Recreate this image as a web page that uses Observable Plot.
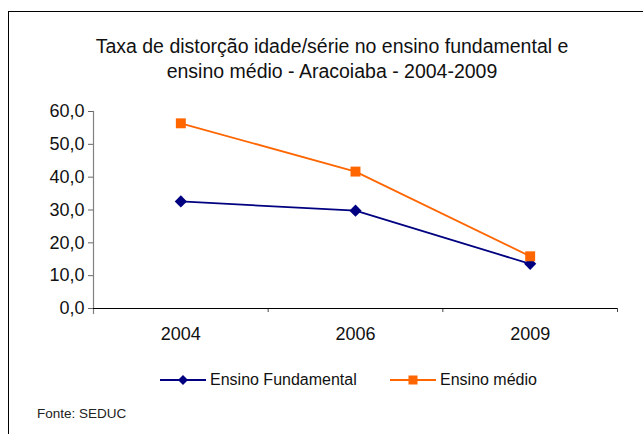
<!DOCTYPE html>
<html>
<head>
<meta charset="utf-8">
<script src="https://cdn.jsdelivr.net/npm/d3@7"></script>
<script src="https://cdn.jsdelivr.net/npm/@observablehq/plot@0.6"></script>
<style>
  body { margin: 0; background: #fff; font-family: "Liberation Sans", Arial, sans-serif; }
  #wrap { position: relative; width: 643px; height: 434px; overflow: hidden; background: #fff; }
  #box { position: absolute; left: 8px; top: 11px; width: 700px; height: 500px; border-left: 1.5px solid #000; border-top: 1.5px solid #000; }
  #title { position: absolute; left: 0; width: 664px; top: 34px; text-align: center; font-size: 19.5px; line-height: 25px; color: #111; }
  #plot { position: absolute; left: 0; top: 100px; }
  #legend { position: absolute; top: 370px; left: 0; width: 643px; font-size: 16px; color: #111; }
  .item { position: absolute; display: flex; align-items: center; }
  #caption { position: absolute; left: 37px; top: 406px; font-size: 13.5px; color: #222; }
</style>
</head>
<body>
<div id="wrap">
  <div id="box"></div>
  <div id="title">Taxa de distorção idade/série no ensino fundamental e<br>ensino médio - Aracoiaba - 2004-2009</div>
  <div id="plot"></div>
  <div id="legend"></div>
  <div id="caption">Fonte: SEDUC</div>
</div>
<script>
const years = ["2004", "2006", "2009"];
const fundamental = [32.6, 29.8, 13.6];
const medio = [56.4, 41.7, 15.9];
const seriesNames = ["Ensino Fundamental", "Ensino médio"];
const yTicks = [0, 10, 20, 30, 40, 50, 60];

const data = [];
years.forEach((y, i) => {
  data.push({idx: i + 0.5, year: y, value: fundamental[i], series: seriesNames[0]});
  data.push({idx: i + 0.5, year: y, value: medio[i], series: seriesNames[1]});
});
const boundaries = d3.range(years.length + 1);
const fmt = d => d.toFixed(1).replace(".", ",");

const colors = {"Ensino Fundamental": "#000080", "Ensino médio": "#FF6600"};

const chart = Plot.plot({
  width: 643,
  height: 250,
  marginLeft: 93,
  marginRight: 26,
  marginTop: 11,
  marginBottom: 42,
  style: {fontFamily: "Liberation Sans, Arial, sans-serif", fontSize: "18px", color: "#111", background: "transparent"},
  x: {domain: [0, years.length], axis: null, label: null},
  y: {domain: [0, 60], axis: null, label: null},
  marks: [
    Plot.axisY({ticks: yTicks, tickFormat: fmt, tickSize: 5, tickPadding: 4, stroke: "#666", fontSize: 18, label: null}),
    Plot.axisX({ticks: years.map((y, i) => i + 0.5), tickFormat: (d, i) => years[i], tickSize: 0, tickPadding: 19, fontSize: 18, label: null}),
    Plot.axisX({ticks: boundaries.slice(1), tickFormat: () => "", tickSize: 4, stroke: "#444", label: null}),
    Plot.frame({anchor: "left", stroke: "#808080", strokeWidth: 1.2, insetBottom: -5}),
    Plot.ruleY([0], {stroke: "#000", strokeWidth: 1.2}),
    Plot.line(data, {x: "idx", y: "value", z: "series", stroke: d => colors[d.series], strokeWidth: 1.8}),
    Plot.dot(data.filter(d => d.series === seriesNames[0]), {x: "idx", y: "value", symbol: "diamond2", r: 5.5, fill: colors[seriesNames[0]], stroke: "none"}),
    Plot.dot(data.filter(d => d.series === seriesNames[1]), {x: "idx", y: "value", symbol: "square", r: 5.6, fill: colors[seriesNames[1]], stroke: "none"})
  ]
});
document.getElementById("plot").appendChild(chart);

const legend = document.getElementById("legend");
const legendX = [160, 390];
const legendSymbol = ["diamond", "square"];
seriesNames.forEach((name, i) => {
  const item = document.createElement("div");
  item.className = "item";
  item.style.left = legendX[i] + "px";
  const c = colors[name];
  const sym = legendSymbol[i] === "diamond"
    ? `<polygon points="23,5 28,10 23,15 18,10" fill="${c}"/>`
    : `<rect x="18.5" y="5.5" width="9" height="9" fill="${c}"/>`;
  item.innerHTML = `<svg width="46" height="20" style="margin-right:4px"><line x1="0" x2="46" y1="10" y2="10" stroke="${c}" stroke-width="1.8"/>${sym}</svg><span>${name}</span>`;
  legend.appendChild(item);
});
</script>
</body>
</html>
